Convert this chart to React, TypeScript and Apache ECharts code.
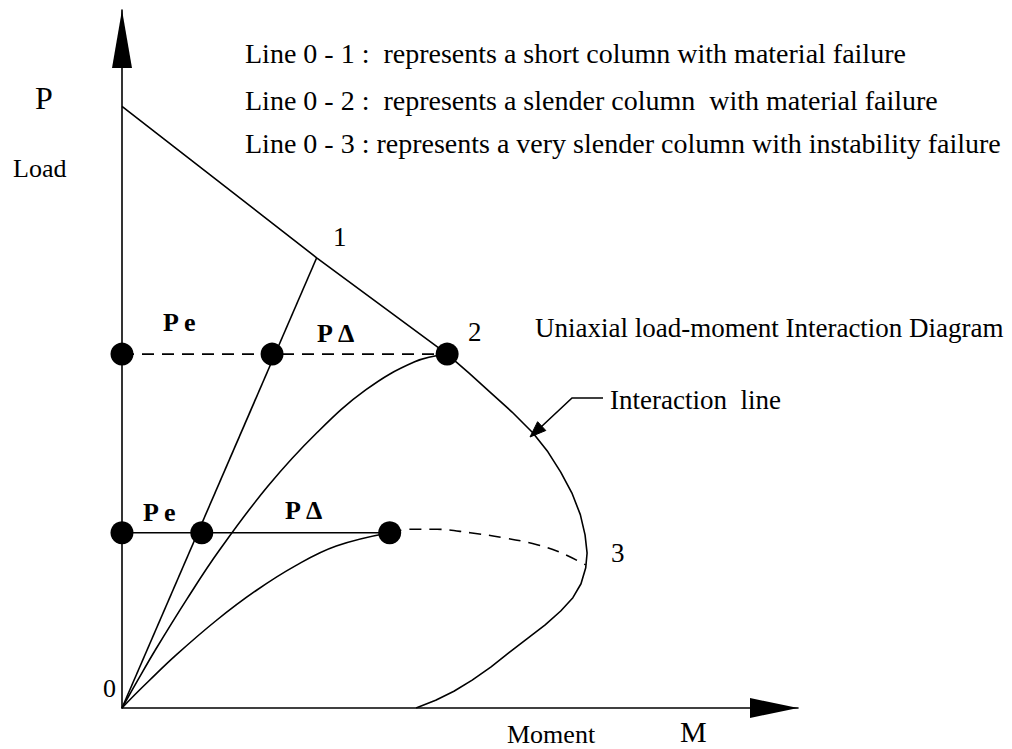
import React, { useEffect, useRef } from "react";
import * as echarts from "echarts";

// Moment (M) and Load (P) in arbitrary units, 0..100 on both axes
const interactionLine: number[][] = [
  [0, 86.2], [28.8, 64.5], [48.1, 50.7], [51.3, 48.0], [54.4, 45.3], [57.7, 42.4],
  [60.8, 39.4], [63.0, 36.7], [64.9, 33.8], [66.6, 30.7], [67.8, 27.7], [68.5, 24.8],
  [68.8, 22.2], [68.6, 20.1], [67.9, 17.8], [66.7, 15.8], [64.9, 13.9], [62.6, 11.9],
  [59.9, 9.9], [57.2, 7.9], [54.6, 5.9], [51.8, 4.0], [49.1, 2.4], [46.4, 1.1], [43.5, 0],
];
const line01: number[][] = [[0, 0], [28.8, 64.5]];
const curve02: number[][] = [
  [0, 0], [2.4, 4.1], [4.8, 8.1], [9.6, 15.6], [14.4, 22.6], [21.6, 31.8],
  [28.9, 39.5], [36.1, 45.6], [43.3, 49.6], [48.1, 50.7],
];
const curve03: number[][] = [
  [0, 0], [2.0, 2.0], [4.0, 3.9], [7.9, 7.5], [13.9, 12.5], [19.8, 16.8],
  [25.7, 20.4], [31.7, 23.2], [39.6, 25.1],
];
const curve03Dashed: number[][] = [
  [39.6, 25.1], [42.6, 25.6], [46.6, 25.6], [51.5, 25.1], [56.4, 24.4],
  [61.4, 23.4], [64.8, 22.3], [68.6, 20.5],
];
const upperRow: number[][] = [[0, 50.7], [22.2, 50.7], [48.1, 50.7]];
const lowerRow: number[][] = [[0, 25.1], [11.8, 25.1], [39.6, 25.1]];

const legendLines = [
  "Line 0 - 1 :  represents a short column with material failure",
  "Line 0 - 2 :  represents a slender column  with material failure",
  "Line 0 - 3 : represents a very slender column with instability failure",
];

const SERIF = "'Liberation Serif', 'Times New Roman', serif";

function txt(text: string, x: number, y: number, size: number, bold = false) {
  return {
    type: "text",
    x,
    y,
    silent: true,
    style: {
      text,
      fill: "#000",
      font: `${bold ? "bold " : ""}${size}px ${SERIF}`,
      align: "left",
      verticalAlign: "middle",
    },
  };
}

export default function App() {
  const ref = useRef<HTMLDivElement>(null);
  useEffect(() => {
    document.body.style.margin = "0";
    document.body.style.overflow = "hidden";
    const chart = echarts.init(ref.current!, null, { renderer: "svg" });
    const black = "#000";
    const lineBase = { type: "line", symbol: "none", silent: true, lineStyle: { color: black, width: 1.6 } };
    const axisCommon = {
      type: "value",
      min: 0,
      max: 100,
      splitLine: { show: false },
      axisTick: { show: false },
      axisLabel: { show: false },
    };
    chart.setOption({
      animation: false,
      backgroundColor: "#fff",
      grid: { left: 122, right: 214, top: 10, bottom: 41 },
      xAxis: {
        ...axisCommon,
        axisLine: {
          show: true,
          lineStyle: { color: black, width: 1.6 },
          symbol: ["none", "triangle"],
          symbolSize: [20, 48],
          symbolOffset: [0, -24],
        },
      },
      yAxis: {
        ...axisCommon,
        axisLine: {
          show: true,
          lineStyle: { color: black, width: 1.6 },
          symbol: ["none", "triangle"],
          symbolSize: [20, 58],
          symbolOffset: [0, -29],
        },
      },
      series: [
        { ...lineBase, name: "Interaction line", data: interactionLine,
          lineStyle: { color: black, width: 1.6, join: "round" } },
        { ...lineBase, name: "Line 0-1", data: line01 },
        { ...lineBase, name: "Line 0-2", smooth: 0.4, data: curve02 },
        { ...lineBase, name: "Line 0-3", smooth: 0.4, data: curve03 },
        { ...lineBase, name: "Line 0-3 (dashed)", smooth: 0.4, data: curve03Dashed,
          lineStyle: { color: black, width: 1.6, type: [12, 8] } },
        { ...lineBase, name: "Upper Pe + PΔ", data: upperRow,
          lineStyle: { color: black, width: 1.6, type: [12, 8] } },
        { ...lineBase, name: "Lower Pe + PΔ", data: lowerRow },
        {
          type: "scatter",
          silent: true,
          symbolSize: 23,
          itemStyle: { color: "#000", opacity: 1 },
          data: [...upperRow, ...lowerRow],
        },
      ],
      graphic: [
        txt(legendLines[0], 245, 53, 28),
        txt(legendLines[1], 245, 100, 28),
        txt(legendLines[2], 245, 143, 28),
        txt("P", 35, 98, 32),
        txt("Load", 13, 168, 26),
        txt("0", 103, 688, 26),
        txt("1", 333, 237, 27),
        txt("2", 468, 332, 27),
        txt("3", 611, 553, 27),
        txt("P e", 163, 322, 26, true),
        txt("P Δ", 317, 333, 26, true),
        txt("P e", 143, 512, 26, true),
        txt("P Δ", 285, 510, 26, true),
        txt("Uniaxial load-moment Interaction Diagram", 535, 328, 27),
        txt("Interaction  line", 610, 400, 27),
        txt("Moment", 507, 734, 26),
        txt("M", 680, 731, 30),
        {
          type: "polyline",
          silent: true,
          shape: { points: [[603, 398], [572, 398], [541, 427]] },
          style: { stroke: black, lineWidth: 1.6, fill: null },
        },
        {
          type: "polygon",
          silent: true,
          shape: { points: [[530, 437], [545.8, 430.5], [537.6, 421.7]] },
          style: { fill: black, stroke: black, lineWidth: 1 },
        },
      ],
    });
    return () => chart.dispose();
  }, []);
  return <div ref={ref} style={{ width: 1012, height: 749 }} />;
}
